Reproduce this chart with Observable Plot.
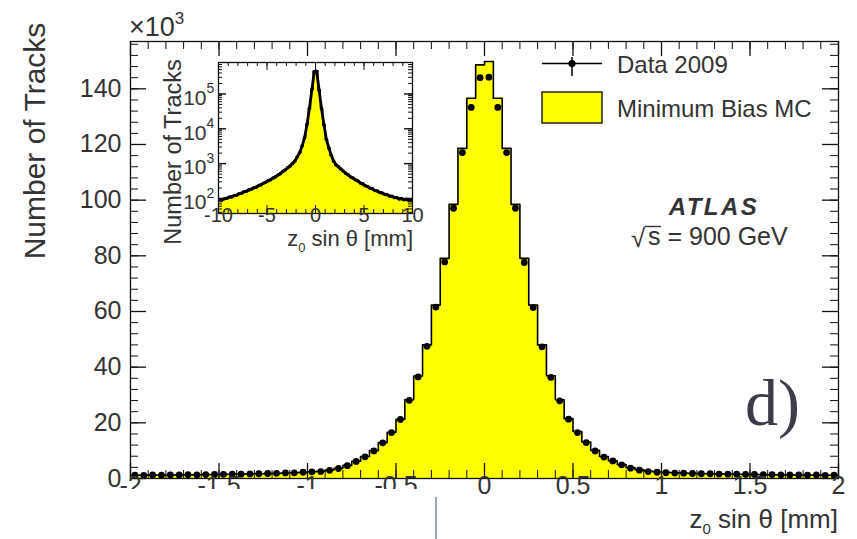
<!DOCTYPE html>
<html>
<head>
<meta charset="utf-8">
<script src="https://cdn.jsdelivr.net/npm/d3@7"></script>
<script src="https://cdn.jsdelivr.net/npm/@observablehq/plot@0.6"></script>
<style>
  html, body { margin: 0; padding: 0; background: #fff; }
  #chart { position: relative; width: 857px; height: 539px; overflow: hidden;
           font-family: "Liberation Sans", Arial, sans-serif; }
  #chart svg { position: absolute; }
  .cover { position: absolute; left: 0; top: 489px; width: 436px; height: 50px; background: #fff; }
  .edge { position: absolute; left: 435px; top: 497px; width: 1.5px; height: 42px; background: #9ba6b6; }
</style>
</head>
<body>
<div id="chart"></div>
<script>
// Track z0 sin(theta) distribution, main panel: 0.05 mm bins from -2 to 2 mm, counts in thousands
const binStart = -2;
const binWidth = 0.05;
const mcTracks = [
  1.15, 1.2, 1.2, 1.25, 1.25, 1.3, 1.3, 1.35, 1.4, 1.45,
  1.5, 1.55, 1.6, 1.65, 1.7, 1.75, 1.85, 1.95, 2.05, 2.2,
  2.45, 2.6, 3.05, 3.7, 4.7, 6.2, 7.9, 10.0, 12.9, 16.6,
  21.3, 28.3, 36.8, 48.0, 62.3, 79.1, 98.5, 118.6, 136.6, 148.6,
  149.8, 136.6, 118.6, 98.5, 79.1, 62.3, 48.0, 36.9, 28.3, 21.5,
  16.9, 13.1, 10.1, 7.9, 6.4, 5.0, 3.9, 3.2, 2.7, 2.4,
  2.2, 2.05, 1.95, 1.85, 1.75, 1.7, 1.65, 1.6, 1.55, 1.5,
  1.45, 1.4, 1.35, 1.3, 1.3, 1.25, 1.25, 1.2, 1.2, 1.15
];
const dataTracks = [
  1.2, 1.1, 1.25, 1.2, 1.3, 1.25, 1.35, 1.3, 1.4, 1.45,
  1.5, 1.6, 1.55, 1.65, 1.7, 1.8, 1.85, 2.0, 2.05, 2.25,
  2.4, 2.5, 2.95, 3.6, 4.6, 6.1, 7.8, 9.9, 12.8, 16.5,
  21.2, 28.1, 36.5, 47.5, 61.6, 77.8, 97.1, 117.1, 133.3, 144.0,
  144.2, 133.3, 117.1, 97.1, 77.6, 61.4, 47.3, 36.3, 27.9, 21.3,
  16.5, 12.9, 9.9, 7.7, 6.3, 4.9, 3.7, 3.0, 2.5, 2.25,
  2.1, 1.95, 1.9, 1.8, 1.7, 1.7, 1.6, 1.55, 1.55, 1.45,
  1.45, 1.35, 1.4, 1.3, 1.25, 1.3, 1.2, 1.25, 1.15, 1.2
];
const yTicks = [0, 20, 40, 60, 80, 100, 120, 140];
const xTicks = [-2, -1.5, -1, -0.5, 0, 0.5, 1, 1.5, 2];

// Inset: 0.25 mm bins from -10 to 10 mm, log scale
const insetStart = -10;
const insetWidth = 0.25;
const insetMc = [
  89, 93, 97, 102, 107, 113, 119, 126, 134, 143,
  152, 162, 173, 185, 198, 213, 230, 249, 270, 294,
  320, 349, 382, 420, 465, 520, 585, 660, 750, 860,
  1000, 1200, 1550, 2100, 3200, 5600, 13500, 40000, 135000, 455000,
  460000, 130000, 38000, 13000, 5000, 2800, 1750, 1150, 930, 800,
  700, 600, 530, 470, 420, 380, 345, 312, 283, 258,
  236, 217, 200, 186, 173, 161, 151, 142, 134, 127,
  120, 114, 109, 104, 100, 97, 94, 92, 90, 88
];
const insetData = [
  92, 90, 99, 101, 110, 111, 122, 124, 137, 141,
  155, 160, 176, 183, 201, 210, 234, 246, 274, 291,
  325, 345, 387, 416, 470, 515, 592, 654, 758, 852,
  1010, 1190, 1565, 2080, 3230, 5550, 13300, 39000, 131000, 440000,
  445000, 127000, 37200, 13100, 4950, 2830, 1730, 1165, 920, 808,
  693, 607, 524, 476, 414, 385, 340, 316, 279, 262,
  232, 220, 197, 189, 170, 163, 148, 144, 131, 129,
  117, 116, 106, 106, 97, 99, 92, 94, 88, 90
];
const insetXTicks = [-10, -5, 0, 5, 10];
const insetYTicks = [100, 1000, 10000, 100000];
const insetYExponents = ["2", "3", "4", "5"];

const ink = "#111";
const textColor = "#333";
const yellow = "#ffff00";
const font = "Liberation Sans, Arial, sans-serif";

// ---------- main panel ----------
const W = 857, H = 539, mL = 130, mR = 19, mT = 41, mB = 61;
const fw = W - mL - mR, fh = H - mT - mB;

const bins = mcTracks.map((mc, i) => ({
  x1: binStart + i * binWidth,
  x2: binStart + (i + 1) * binWidth,
  xc: binStart + (i + 0.5) * binWidth,
  mc,
  data: dataTracks[i]
}));
const outline = bins.flatMap(b => [{x: b.x1, v: b.mc}, {x: b.x2, v: b.mc}]);

const xMinor = d3.range(-20, 21).map(i => i / 10);
const yMinor = d3.range(0, 157, 4);

const main = Plot.plot({
  width: W, height: H,
  marginLeft: mL, marginRight: mR, marginTop: mT, marginBottom: mB,
  style: {fontFamily: font, background: "transparent", overflow: "visible"},
  x: {domain: [-2, 2], axis: null},
  y: {domain: [0, 157], axis: null},
  marks: [
    Plot.areaY(outline, {x: "x", y1: 0, y2: "v", fill: yellow}),
    Plot.line(outline, {x: "x", y: "v", stroke: "#000", strokeWidth: 1.6}),
    Plot.dot(bins, {x: "xc", y: "data", r: 3.4, fill: "#000"}),
    Plot.frame({stroke: ink, strokeWidth: 1.3}),
    // inward ticks on all four sides
    Plot.tickX(xMinor, {x: d => d, insetTop: fh - 8, stroke: ink}),
    Plot.tickX(xTicks, {x: d => d, insetTop: fh - 15, stroke: ink, strokeWidth: 1.3}),
    Plot.tickX(xMinor, {x: d => d, insetBottom: fh - 8, stroke: ink}),
    Plot.tickX(xTicks, {x: d => d, insetBottom: fh - 15, stroke: ink, strokeWidth: 1.3}),
    Plot.tickY(yMinor, {y: d => d, insetRight: fw - 8, stroke: ink}),
    Plot.tickY(yTicks, {y: d => d, insetRight: fw - 16, stroke: ink, strokeWidth: 1.3}),
    Plot.tickY(yMinor, {y: d => d, insetLeft: fw - 8, stroke: ink}),
    Plot.tickY(yTicks, {y: d => d, insetLeft: fw - 16, stroke: ink, strokeWidth: 1.3}),
    Plot.text(yTicks, {y: d => d, text: d => String(d), frameAnchor: "left", textAnchor: "end",
                       dx: -9, fontSize: 25, fill: textColor}),
    Plot.text(xTicks, {x: d => d, text: d => String(d), frameAnchor: "bottom",
                       dy: 15, fontSize: 25, fill: textColor})
  ]
});

const svg = d3.select(main);

function label(sel, x, y, str, opts = {}) {
  const t = sel.append("text")
    .attr("x", x).attr("y", y)
    .attr("fill", opts.fill || textColor)
    .attr("font-family", opts.family || font)
    .attr("font-size", opts.size || 24)
    .attr("text-anchor", opts.anchor || "start")
    .text(str);
  if (opts.weight) t.attr("font-weight", opts.weight);
  if (opts.italic) t.attr("font-style", "italic");
  if (opts.spacing) t.attr("letter-spacing", opts.spacing);
  if (opts.transform) t.attr("transform", opts.transform);
  if (opts.baseline) t.attr("dominant-baseline", opts.baseline);
  return t;
}

// exponent of the y axis
const mult = label(svg, 129, 36, "\u00d710", {size: 27});
mult.append("tspan").attr("dy", -12).attr("font-size", 17).text("3");

// axis titles
label(svg, 0, 0, "Number of Tracks", {size: 30, anchor: "middle", baseline: "central",
      transform: "translate(34,141) rotate(-90)"});
const xt = label(svg, 838, 528, "z", {size: 26, anchor: "end"});
xt.append("tspan").attr("font-size", 15).attr("dy", 6).text("0");
xt.append("tspan").attr("dy", -6).text(" sin \u03b8 [mm]");

// legend
const lg = svg.append("g");
lg.append("line").attr("x1", 542).attr("x2", 602).attr("y1", 63.5).attr("y2", 63.5)
  .attr("stroke", "#000").attr("stroke-width", 1.5);
lg.append("line").attr("x1", 572).attr("x2", 572).attr("y1", 57).attr("y2", 76)
  .attr("stroke", "#000").attr("stroke-width", 1.5);
lg.append("circle").attr("cx", 572).attr("cy", 63.5).attr("r", 3.6).attr("fill", "#000");
label(lg, 617, 72.5, "Data 2009", {size: 24});
lg.append("rect").attr("x", 542).attr("y", 92).attr("width", 60).attr("height", 31)
  .attr("fill", yellow).attr("stroke", "#222").attr("stroke-width", 1.5);
label(lg, 617, 117, "Minimum Bias MC", {size: 24});

// experiment tag
label(svg, 714, 215, "ATLAS", {size: 24, anchor: "middle", weight: "bold", italic: true, spacing: 2.5});
label(svg, 631, 247, "\u221a", {size: 26});
svg.append("line").attr("x1", 645).attr("x2", 661).attr("y1", 226.5).attr("y2", 226.5)
  .attr("stroke", textColor).attr("stroke-width", 1.4);
label(svg, 648, 245, "s = 900 GeV", {size: 25});

// panel tag
label(svg, 745, 425, "d)", {size: 66, family: "Liberation Serif, Times New Roman, serif", fill: "#3b3b4a"});

// ---------- inset ----------
const iW = 280, iH = 240, imL = 68, imR = 18, imT = 22, imB = 67;
const ifw = iW - imL - imR, ifh = iH - imT - imB;
const insetDomain = [37, 8e5];

const insetBins = insetMc.map((mc, i) => ({
  x1: insetStart + i * insetWidth,
  x2: insetStart + (i + 1) * insetWidth,
  xc: insetStart + (i + 0.5) * insetWidth,
  mc,
  data: insetData[i]
}));
const insetOutline = insetBins.flatMap(b => [{x: b.x1, v: b.mc}, {x: b.x2, v: b.mc}]);
const insetXMinor = d3.range(-10, 11);
const insetYMinor = d3.range(1, 6).flatMap(e => d3.range(1, 10).map(m => m * 10 ** e))
  .filter(v => v >= insetDomain[0] && v <= insetDomain[1]);

const inset = Plot.plot({
  width: iW, height: iH,
  marginLeft: imL, marginRight: imR, marginTop: imT, marginBottom: imB,
  style: {fontFamily: font, background: "transparent", overflow: "visible"},
  x: {domain: [-10, 10], axis: null},
  y: {type: "log", domain: insetDomain, axis: null},
  marks: [
    Plot.areaY(insetOutline, {x: "x", y1: insetDomain[0], y2: "v", fill: yellow}),
    Plot.line(insetOutline, {x: "x", y: "v", stroke: "#000", strokeWidth: 1.2}),
    Plot.line(insetBins, {x: "xc", y: "data", stroke: "#000", strokeWidth: 2.8}),
    Plot.dot(insetBins, {x: "xc", y: "data", r: 1.8, fill: "#000"}),
    Plot.frame({stroke: ink, strokeWidth: 1.3}),
    Plot.tickX(insetXMinor, {x: d => d, insetTop: ifh - 4, stroke: ink}),
    Plot.tickX(insetXTicks, {x: d => d, insetTop: ifh - 8, stroke: ink}),
    Plot.tickX(insetXMinor, {x: d => d, insetBottom: ifh - 4, stroke: ink}),
    Plot.tickX(insetXTicks, {x: d => d, insetBottom: ifh - 8, stroke: ink}),
    Plot.tickY(insetYMinor, {y: d => d, insetRight: ifw - 4, stroke: ink}),
    Plot.tickY(insetYTicks, {y: d => d, insetRight: ifw - 8, stroke: ink, strokeWidth: 1.4}),
    Plot.tickY(insetYMinor, {y: d => d, insetLeft: ifw - 4, stroke: ink}),
    Plot.tickY(insetYTicks, {y: d => d, insetLeft: ifw - 8, stroke: ink, strokeWidth: 1.4}),
    Plot.text(insetXTicks, {x: d => d, text: d => String(d), frameAnchor: "bottom",
                            dy: 8, fontSize: 20, fill: textColor}),
    Plot.text(insetYTicks, {y: d => d, text: () => "10", frameAnchor: "left", textAnchor: "end",
                            dx: -12, dy: 4, fontSize: 21, fill: textColor}),
    Plot.text(insetYTicks, {y: d => d, text: (d, i) => insetYExponents[i], frameAnchor: "left",
                            textAnchor: "start", dx: -12, dy: -5, fontSize: 14, fill: textColor})
  ]
});

const isvg = d3.select(inset);
label(isvg, 0, 0, "Number of Tracks", {size: 23.5, anchor: "middle", baseline: "central",
      transform: "translate(23,112) rotate(-90)"});
const ixt = label(isvg, 263, 206, "z", {size: 22, anchor: "end"});
ixt.append("tspan").attr("font-size", 13).attr("dy", 6).text("0");
ixt.append("tspan").attr("dy", -6).text(" sin \u03b8 [mm]");

// ---------- assemble ----------
const chart = document.getElementById("chart");
main.style.left = "0px";
main.style.top = "0px";
chart.appendChild(main);
inset.style.left = "150px";
inset.style.top = "40px";
chart.appendChild(inset);

const cover = document.createElement("div");
cover.className = "cover";
chart.appendChild(cover);
const edge = document.createElement("div");
edge.className = "edge";
chart.appendChild(edge);
</script>
</body>
</html>
